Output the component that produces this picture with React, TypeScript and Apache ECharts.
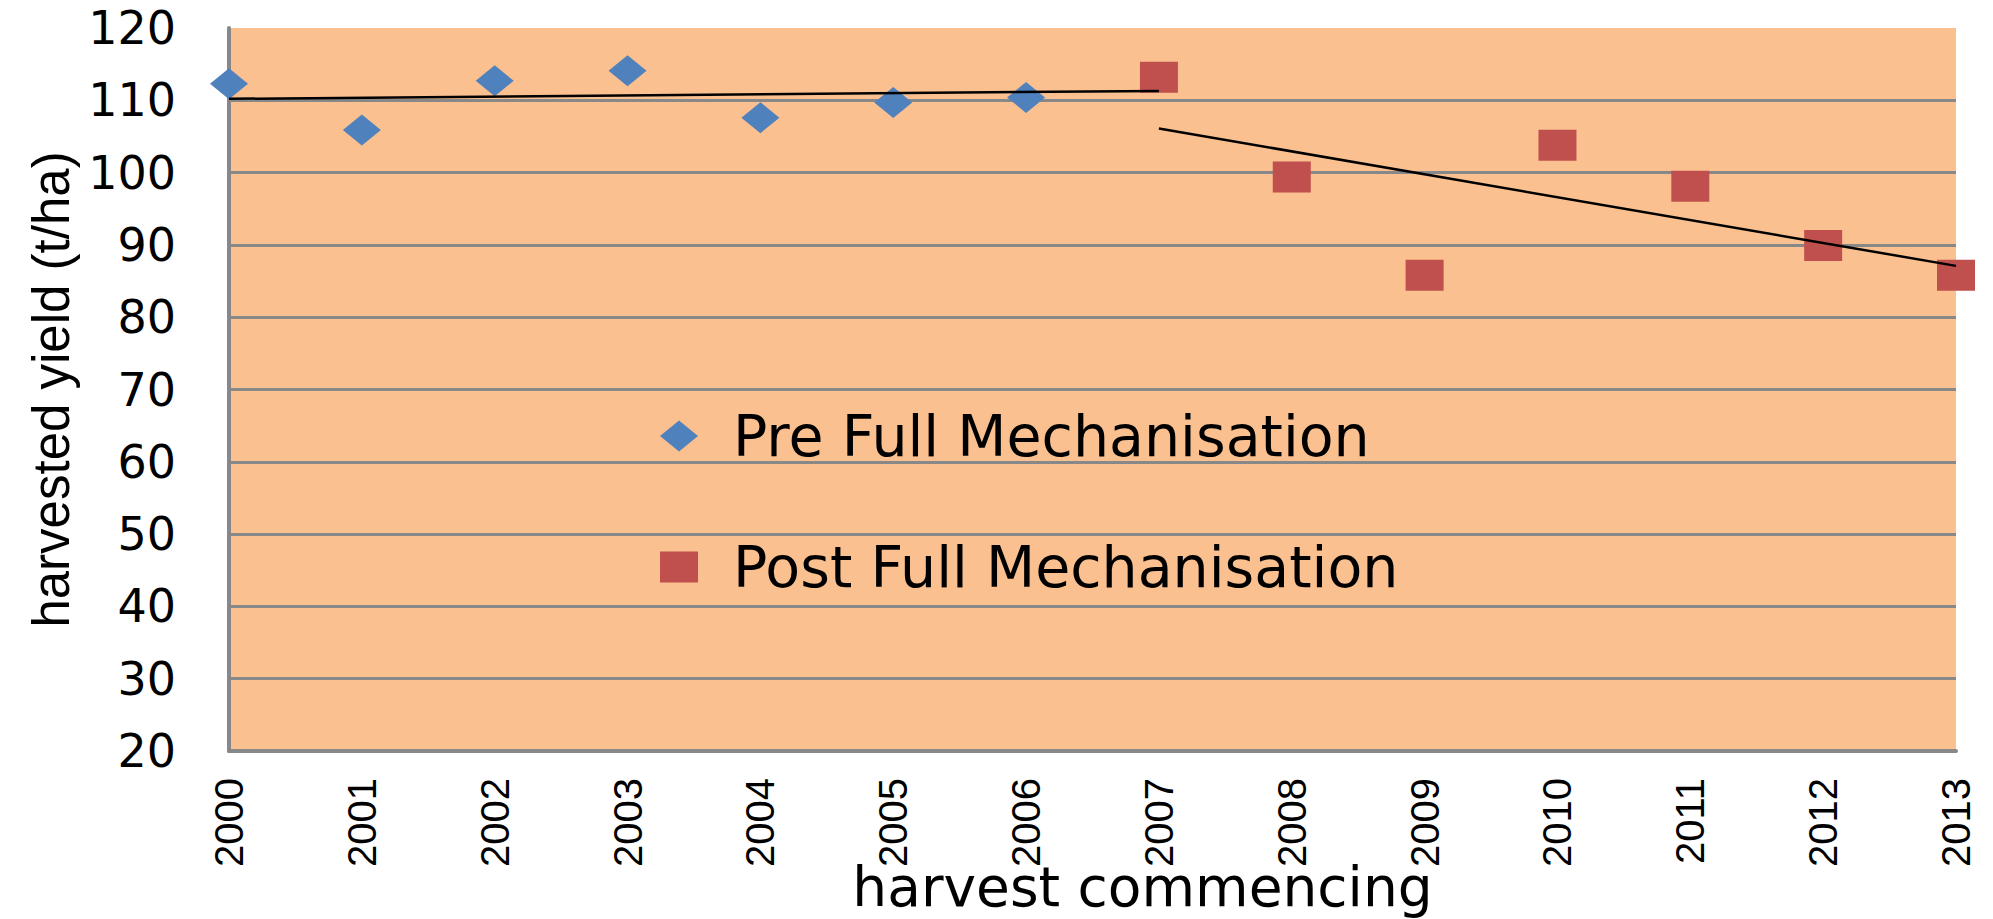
import React, { useEffect, useRef } from "react";
import * as echarts from "echarts";

// Data
const preYears = [2000, 2001, 2002, 2003, 2004, 2005, 2006];
const preYield = [112.3, 105.9, 112.7, 114.1, 107.6, 109.7, 110.4];

const postYears = [2007, 2008, 2009, 2010, 2011, 2012, 2013];
const postYield = [113.2, 99.4, 85.8, 103.8, 98.1, 89.9, 85.8];

// Linear trend lines (end points)
const preTrendYears = [2000, 2007];
const preTrendValues = [110.2, 111.3];
const postTrendYears = [2007, 2013];
const postTrendValues = [106.1, 87.1];

const seriesNames = ["Pre Full Mechanisation", "Post Full Mechanisation"];
const xAxisTitle = "harvest commencing";
const yAxisTitle = "harvested yield (t/ha)";

const zip = (xs: number[], ys: number[]) => xs.map((x, i) => [x, ys[i]]);

export default function App() {
  const ref = useRef<HTMLDivElement>(null);

  useEffect(() => {
    if (!ref.current) return;
    const chart = echarts.init(ref.current, null, { renderer: "svg" });
    const gray = "#888888";
    chart.setOption({
      animation: false,
      backgroundColor: "#ffffff",
      grid: {
        left: 229,
        top: 28,
        width: 1727,
        bottom: 168,
        show: true,
        backgroundColor: "#FAC090",
        borderWidth: 0,
        containLabel: false,
        outerBoundsMode: "none",
      },
      legend: {
        data: seriesNames,
        orient: "vertical",
        left: 655,
        top: 401,
        itemWidth: 38,
        itemHeight: 31,
        itemGap: 71,
        selectedMode: false,
        textStyle: {
          fontFamily: "DejaVu Sans",
          fontSize: 57,
          color: "#000000",
          lineHeight: 60,
          padding: [0, 0, 0, 30],
        },
      },
      xAxis: {
        type: "value",
        min: 2000,
        max: 2013,
        interval: 1,
        name: xAxisTitle,
        nameLocation: "middle",
        nameGap: 108,
        nameMoveOverlap: false,
        nameTextStyle: {
          fontFamily: "DejaVu Sans",
          fontSize: 55,
          color: "#000000",
          padding: [0, 0, 0, 100],
        },
        axisLine: { show: true, onZero: false, lineStyle: { color: gray, width: 4 } },
        axisTick: { show: false },
        splitLine: { show: false },
        axisLabel: {
          rotate: 90,
          margin: 27,
          fontFamily: "Liberation Sans",
          fontSize: 40,
          color: "#000000",
          formatter: (v: number) => String(v),
        },
      },
      yAxis: {
        type: "value",
        min: 20,
        max: 120,
        interval: 10,
        name: yAxisTitle,
        nameLocation: "middle",
        nameGap: 152,
        nameRotate: 90,
        nameMoveOverlap: false,
        nameTextStyle: {
          fontFamily: "Liberation Sans",
          fontSize: 51,
          color: "#000000",
        },
        axisLine: { show: true, lineStyle: { color: gray, width: 4 } },
        axisTick: { show: false },
        splitLine: {
          show: true,
          showMaxLine: false,
          showMinLine: false,
          lineStyle: { color: gray, width: 3 },
        },
        axisLabel: {
          margin: 53,
          fontFamily: "DejaVu Sans",
          fontSize: 46,
          color: "#000000",
        },
      },
      series: [
        {
          name: seriesNames[0],
          type: "scatter",
          symbol: "diamond",
          symbolSize: [38, 31],
          clip: false,
          itemStyle: { color: "#4F81BD", opacity: 1 },
          data: zip(preYears, preYield),
          z: 3,
        },
        {
          name: seriesNames[1],
          type: "scatter",
          symbol: "rect",
          symbolSize: [38, 31],
          clip: false,
          itemStyle: { color: "#C0504D", opacity: 1 },
          data: zip(postYears, postYield),
          z: 3,
        },
        {
          name: "Pre trend",
          type: "line",
          symbol: "none",
          lineStyle: { color: "#000000", width: 2.5 },
          data: zip(preTrendYears, preTrendValues),
          z: 5,
          silent: true,
        },
        {
          name: "Post trend",
          type: "line",
          symbol: "none",
          lineStyle: { color: "#000000", width: 2.5 },
          data: zip(postTrendYears, postTrendValues),
          z: 5,
          silent: true,
        },
      ],
    });
    return () => chart.dispose();
  }, []);

  return (
    <div
      ref={ref}
      style={{ position: "absolute", left: 0, top: 0, width: 1993, height: 919 }}
    />
  );
}
